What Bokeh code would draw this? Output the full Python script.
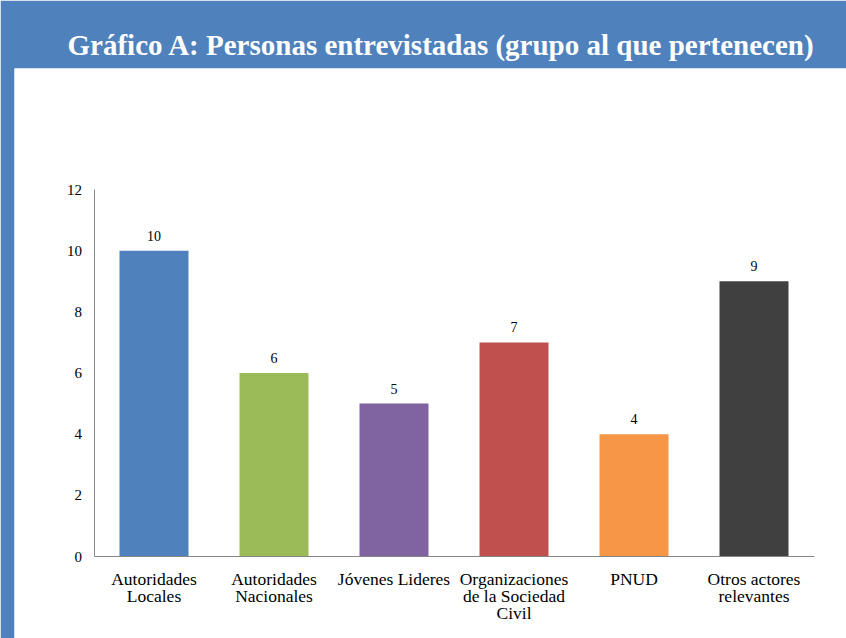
from bokeh.plotting import figure
from bokeh.models import Range1d, LinearAxis, FixedTicker, Title, ColumnDataSource
from bokeh.core.properties import value
from bokeh.embed import file_html
from bokeh.resources import INLINE

# ---- data ----
categories = ["Autoridades\nLocales", "Autoridades\nNacionales", "Jóvenes Lideres",
              "Organizaciones\nde la Sociedad\nCivil", "PNUD", "Otros actores\nrelevantes"]
values = [10, 6, 5, 7, 4, 9]
colors = ["#4F81BD", "#9BBB59", "#8064A2", "#C0504D", "#F79646", "#404040"]
y_ticks = [0, 2, 4, 6, 8, 10, 12]
title_text = "Gráfico A: Personas entrevistadas (grupo al que pertenecen)"

xs = list(range(len(categories)))
src = ColumnDataSource(dict(x=xs, v=values, c=colors, lbl=[str(v) for v in values]))

SERIF = "'Liberation Serif', 'Times New Roman', 'DejaVu Serif', serif"

p = figure(width=846, height=638, output_backend="svg", toolbar_location=None,
           x_axis_type=None, y_axis_type=None,
           x_range=Range1d(-1.1625, 5.7708), y_range=Range1d(-2.681, 15.958),
           min_border_left=14, min_border_right=0, min_border_bottom=0, min_border_top=68)
p.border_fill_color = "#4F81BD"
p.background_fill_color = "white"
p.outline_line_color = None
p.xgrid.visible = False
p.ygrid.visible = False

p.title = Title(text=title_text, align="left", offset=53, text_font=SERIF,
                text_font_style="bold", text_font_size="29px", text_color="white",
                standoff=15)

p.vbar(x="x", top="v", width=0.575, bottom=0, fill_color="c", line_color=None, source=src)
p.text(x="x", y="v", text="lbl", source=src, text_align="center",
       text_baseline="alphabetic", y_offset=-15, text_font=value(SERIF),
       text_font_size="14px", text_color="#000000")

yaxis = LinearAxis(fixed_location=-0.5, bounds=(0, 12), ticker=FixedTicker(ticks=y_ticks))
yaxis.axis_line_color = "#868686"
yaxis.major_tick_line_color = None
yaxis.minor_tick_line_color = None
yaxis.major_tick_out = 0
yaxis.major_label_standoff = 12
yaxis.major_label_text_font = SERIF
yaxis.major_label_text_font_size = "15px"
yaxis.major_label_text_color = "#000000"
p.add_layout(yaxis, "left")

xaxis = LinearAxis(fixed_location=0, bounds=(-0.5, 5.5), ticker=FixedTicker(ticks=xs))
xaxis.major_label_overrides = {i: c for i, c in zip(xs, categories)}
xaxis.axis_line_color = "#868686"
xaxis.major_tick_line_color = None
xaxis.minor_tick_line_color = None
xaxis.major_tick_out = 0
xaxis.major_label_standoff = 12
xaxis.major_label_text_font = SERIF
xaxis.major_label_text_font_size = "17.5px"
xaxis.major_label_text_line_height = 0.85
xaxis.major_label_text_color = "#000000"
p.add_layout(xaxis, "below")

open("out.html", "w").write(file_html(p, INLINE))
